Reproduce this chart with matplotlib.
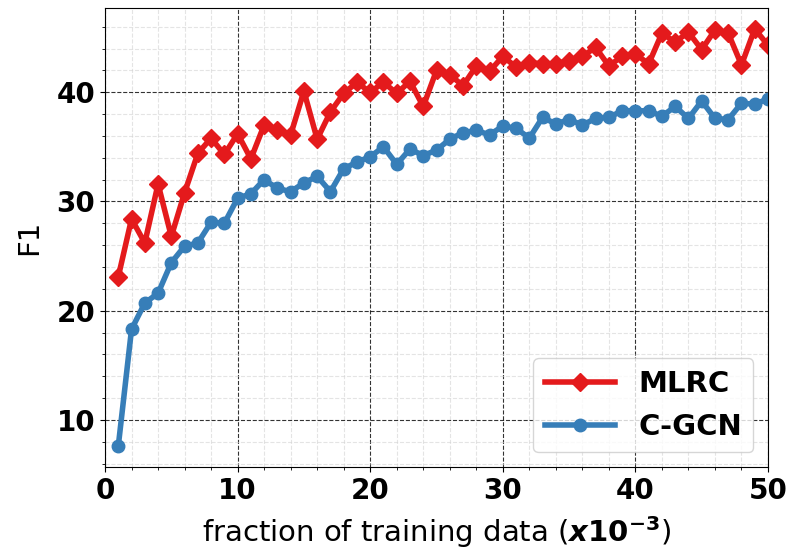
import matplotlib
matplotlib.use("Agg")
import matplotlib.pyplot as plt
from matplotlib.ticker import AutoMinorLocator

# fraction of training data (x1e-3)
fractions = list(range(1, 51))

mlrc_f1 = [23.1, 28.4, 26.2, 31.6, 26.8, 30.8, 34.4, 35.8, 34.3, 36.2,
           33.9, 37.0, 36.5, 36.1, 40.1, 35.7, 38.2, 39.9, 40.9, 40.0,
           40.9, 39.9, 41.0, 38.7, 42.0, 41.6, 40.6, 42.4, 41.9, 43.3,
           42.3, 42.7, 42.6, 42.6, 42.9, 43.3, 44.1, 42.4, 43.3, 43.5,
           42.6, 45.4, 44.6, 45.5, 43.9, 45.7, 45.4, 42.5, 45.8, 44.3]

cgcn_f1 = [7.6, 18.3, 20.7, 21.6, 24.4, 25.9, 26.2, 28.1, 28.0, 30.3,
           30.7, 32.0, 31.2, 30.9, 31.7, 32.3, 30.9, 33.0, 33.6, 34.1,
           35.0, 33.4, 34.8, 34.2, 34.7, 35.7, 36.3, 36.5, 36.1, 36.9,
           36.7, 35.8, 37.7, 37.1, 37.5, 37.0, 37.6, 37.7, 38.3, 38.3,
           38.3, 37.8, 38.7, 37.6, 39.2, 37.6, 37.5, 39.0, 38.9, 39.4]

fig = plt.figure(figsize=(7.92, 5.57), dpi=100)
ax = fig.add_axes([0.1326, 0.1616, 0.8371, 0.824])

ax.plot(fractions, mlrc_f1, marker='D', color='#e41a1c', linewidth=4,
        markersize=9, label='MLRC')
ax.plot(fractions, cgcn_f1, marker='o', color='#377eb8', linewidth=4,
        markersize=9, label='C-GCN')

ax.set_xlim(0, 50)
ax.xaxis.set_minor_locator(AutoMinorLocator())
ax.yaxis.set_minor_locator(AutoMinorLocator())
ax.grid(which='major', linestyle='--', color='black', linewidth=0.8, alpha=0.8)
ax.grid(which='minor', linestyle='--', color='lightgray', linewidth=0.8, alpha=0.6)

ax.tick_params(axis='both', which='major', labelsize=20)
for lbl in ax.get_xticklabels() + ax.get_yticklabels():
    lbl.set_fontweight('bold')

ax.set_xlabel(r'fraction of training data ($\boldsymbol{x}\mathbf{10^{-3}}$)',
              fontsize=21, labelpad=7)
ax.set_ylabel('F1', fontsize=21, labelpad=10)

ax.legend(loc='lower right', prop={'weight': 'bold', 'size': 21},
          handlelength=2.4)

fig.savefig('out.png', dpi=100)
